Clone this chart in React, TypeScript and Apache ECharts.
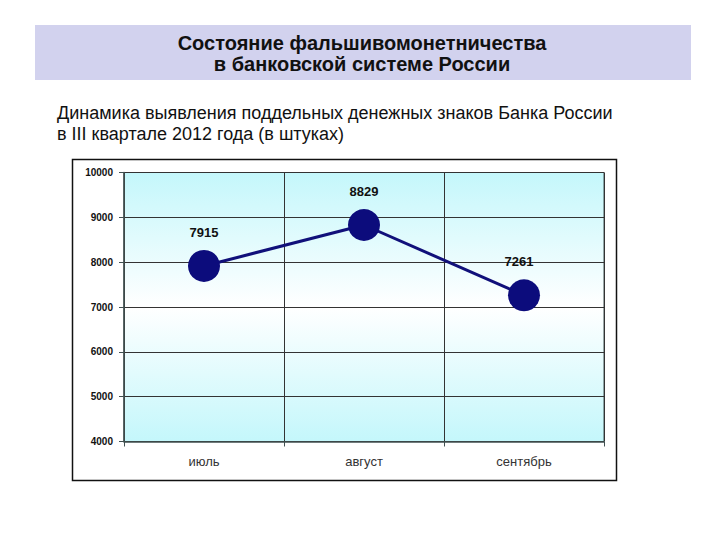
import React, { useEffect, useRef } from "react";
import * as echarts from "echarts";

const titleLines = ["Состояние фальшивомонетничества", "в банковской системе России"];
const subtitleLines = [
  "Динамика выявления поддельных денежных знаков Банка России",
  "в III квартале 2012 года (в штуках)",
];
const months = ["июль", "август", "сентябрь"];
const counts = [7915, 8829, 7261];
const yMin = 4000;
const yMax = 10000;
const yStep = 1000;

const FONT = "'Liberation Sans', Arial, sans-serif";

export default function App() {
  const ref = useRef<HTMLDivElement>(null);
  useEffect(() => {
    if (!ref.current) return;
    const chart = echarts.init(ref.current, undefined, { renderer: "svg" });
    chart.setOption({
      animation: false,
      backgroundColor: "#ffffff",
      textStyle: { fontFamily: FONT },
      graphic: [
        {
          type: "rect",
          shape: { x: 35, y: 25, width: 656, height: 55 },
          style: { fill: "#d2d2ee" },
          z: -10,
        },
        {
          type: "text",
          x: 362,
          y: 43,
          style: {
            text: titleLines[0],
            font: `bold 20px ${FONT}`,
            fill: "#111",
            align: "center",
            verticalAlign: "middle",
          },
        },
        {
          type: "text",
          x: 362,
          y: 64,
          style: {
            text: titleLines[1],
            font: `bold 20px ${FONT}`,
            fill: "#111",
            align: "center",
            verticalAlign: "middle",
          },
        },
        {
          type: "text",
          x: 57,
          y: 113,
          style: {
            text: subtitleLines[0],
            font: `18px ${FONT}`,
            fill: "#111",
            align: "left",
            verticalAlign: "middle",
          },
        },
        {
          type: "text",
          x: 57,
          y: 134,
          style: {
            text: subtitleLines[1],
            font: `18px ${FONT}`,
            fill: "#111",
            align: "left",
            verticalAlign: "middle",
          },
        },
        {
          type: "rect",
          shape: { x: 72.5, y: 159.5, width: 544, height: 321 },
          style: { fill: "none", stroke: "#111", lineWidth: 1.5 },
          z: 10,
        },
      ],
      grid: {
        left: 124,
        right: 116,
        top: 172.5,
        height: 269,
        show: true,
        borderColor: "#405050",
        borderWidth: 1,
        backgroundColor: new echarts.graphic.LinearGradient(0, 0, 0, 1, [
          { offset: 0, color: "#c4f7fb" },
          { offset: 0.5, color: "#ffffff" },
          { offset: 1, color: "#c4f7fb" },
        ]),
      },
      xAxis: {
        type: "category",
        data: months,
        boundaryGap: true,
        axisLine: { show: true, lineStyle: { color: "#405050", width: 1.5 } },
        axisTick: { show: true, length: 5, lineStyle: { color: "#405050" } },
        axisLabel: { color: "#333", fontSize: 13, margin: 13, fontFamily: FONT },
        splitLine: { show: true, lineStyle: { color: "#333", width: 1 } },
      },
      yAxis: {
        type: "value",
        min: yMin,
        max: yMax,
        interval: yStep,
        axisLine: { show: true, lineStyle: { color: "#405050", width: 1.5 } },
        axisTick: { show: true, length: 5, lineStyle: { color: "#405050" } },
        axisLabel: {
          color: "#111",
          fontSize: 10,
          fontWeight: "bold",
          margin: 11,
          fontFamily: FONT,
          formatter: (v: number) => String(v),
        },
        splitLine: { show: true, lineStyle: { color: "#333", width: 1 } },
      },
      series: [
        {
          type: "line",
          data: counts.map((v, i) =>
            i === 2 ? { value: v, label: { offset: [-5, 0] } } : v
          ),
          symbol: "circle",
          symbolSize: 32,
          lineStyle: { color: "#10107a", width: 3 },
          itemStyle: { color: "#0c0c7c" },
          label: {
            show: true,
            position: "top",
            distance: 11,
            fontSize: 13,
            fontWeight: "bold",
            color: "#111",
            fontFamily: FONT,
          },
        },
      ],
    });
    return () => chart.dispose();
  }, []);
  return (
    <div
      ref={ref}
      style={{ position: "fixed", left: 0, top: 0, width: 720, height: 540 }}
    />
  );
}
